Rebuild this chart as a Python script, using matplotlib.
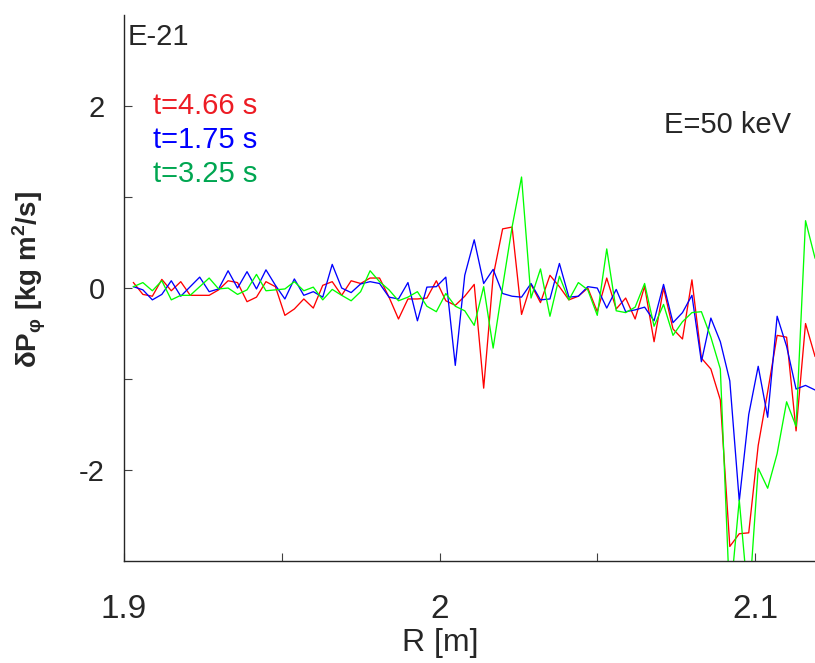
import numpy as np
import matplotlib
matplotlib.use('Agg')
import matplotlib.pyplot as plt
from matplotlib.ticker import FixedLocator, FixedFormatter

plt.rcParams['font.family'] = ['Liberation Sans', 'DejaVu Sans']
plt.rcParams['mathtext.fontset'] = 'custom'
plt.rcParams['mathtext.rm'] = 'Liberation Sans'
plt.rcParams['mathtext.bf'] = 'Liberation Sans:bold'

# radial grid of the sampled profile [m]
R = np.linspace(1.903, 2.119, 73)

# toroidal momentum change at E=50 keV, three time slices
dp_466 = [0.06, -0.07, -0.09, 0.095, -0.03, 0.07, -0.08, -0.08, -0.08, -0.02,
          0.08, 0.06, -0.15, -0.10, 0.07, 0.015, -0.30, -0.23, -0.12, -0.22,
          0.03, 0.07, -0.08, 0.08, 0.05, 0.11, 0.11, -0.10, -0.34, -0.12,
          -0.12, -0.11, 0.08, -0.14, -0.19, -0.09, 0.04, -1.10, 0.13, 0.65,
          0.67, -0.29, 0.04, -0.16, 0.14, 0.015, -0.13, -0.09, 0.0, -0.26,
          0.11, -0.23, -0.11, -0.34, 0.02, -0.59, 0.0, -0.45, -0.56, 0.09,
          -0.77, -0.89, -1.23, -2.84, -2.70, -2.69, -1.73, -1.14, -0.52, -0.54,
          -1.57, -0.39, -0.75]

dp_175 = [0.015, -0.02, -0.13, -0.07, 0.08, -0.09, 0.015, 0.12, -0.04, -0.01,
          0.19, 0.0, 0.18, -0.01, 0.20, 0.03, -0.12, 0.10, -0.08, -0.04,
          -0.10, 0.26, 0.0, -0.05, 0.045, 0.07, 0.05, -0.10, -0.12, 0.06,
          -0.36, 0.01, 0.015, 0.12, -0.85, 0.14, 0.53, 0.05, 0.205, -0.06,
          -0.09, -0.10, 0.05, -0.13, -0.12, 0.27, -0.10, -0.09, 0.015, 0.0,
          -0.22, -0.015, -0.26, -0.24, -0.21, -0.36, 0.04, -0.38, -0.27, -0.08,
          -0.81, -0.33, -0.59, -1.02, -2.34, -1.39, -0.86, -1.42, -0.31, -0.64,
          -1.11, -1.07, -1.12]

dp_325 = [0.015, 0.06, -0.03, 0.08, -0.13, -0.08, -0.08, 0.015, 0.11, -0.01,
          0.0, -0.07, -0.02, 0.15, -0.03, -0.02, -0.01, 0.07, -0.03, 0.01,
          -0.13, -0.015, -0.08, -0.14, -0.04, 0.19, 0.07, -0.02, -0.14, -0.10,
          -0.04, -0.20, -0.26, -0.06, -0.20, -0.25, -0.41, 0.015, -0.66, 0.015,
          0.67, 1.22, -0.11, 0.21, -0.31, 0.13, -0.13, 0.06, -0.02, -0.30,
          0.43, -0.25, -0.27, -0.21, 0.05, -0.42, -0.18, -0.52, -0.37, -0.27,
          -0.26, -0.54, -0.89, -3.45, -2.33, -3.5, -1.98, -2.20, -1.82, -1.25,
          -1.52, 0.74, 0.33]

series = [
    (dp_466, '#ff0000', '#ed1c24', 't=4.66 s'),
    (dp_175, '#0000ff', '#0000ff', 't=1.75 s'),
    (dp_325, '#00ff00', '#00a651', 't=3.25 s'),
]

x_ticks = [1.9, 1.95, 2.0, 2.05, 2.1]
x_labels = ['1.9', '', '2', '', '2.1']
y_ticks = [-2, -1, 0, 1, 2]
y_labels = ['-2', '', '0', '', '2']

fig = plt.figure(figsize=(8.15, 6.63), dpi=100)
ax = fig.add_axes([0.1521, 0.1538, 0.8479, 0.8235])

for vals, lc, tc, lab in series:
    ax.plot(R, vals, color=lc, lw=0.95)

ax.set_xlim(1.9, 2.119)
ax.set_ylim(-3, 3)

for side in ['top', 'right']:
    ax.spines[side].set_visible(False)
for side in ['left', 'bottom']:
    ax.spines[side].set_color('#262626')
    ax.spines[side].set_linewidth(1.0)

ax.xaxis.set_major_locator(FixedLocator(x_ticks))
ax.xaxis.set_major_formatter(FixedFormatter(x_labels))
ax.yaxis.set_major_locator(FixedLocator(y_ticks))
ax.yaxis.set_major_formatter(FixedFormatter(y_labels))
ax.tick_params(direction='in', length=6, width=0.8, color='#404040',
               labelcolor='#262626')
ax.tick_params(axis='y', labelsize=21, pad=14)
ax.tick_params(axis='x', labelsize=24, pad=24)

ax.set_xlabel('R [m]', fontsize=23, color='#262626')
ax.xaxis.set_label_coords(0.458, -0.122)
ax.set_ylabel(r'δP$_{\mathbf{φ}}$ [kg m$^{\mathbf{2}}$/s]', fontsize=20,
              fontweight='bold', color='#262626')
ax.yaxis.set_label_coords(-0.11, 0.515)

ax.text(1.9013, 2.67, 'E-21', fontsize=21, color='#262626', va='baseline')
ax.text(2.0711, 1.70, 'E=50 keV', fontsize=21, color='#262626', va='baseline')
for k, (vals, lc, tc, lab) in enumerate(series):
    ax.text(1.9092, 1.91 - 0.373 * k, lab, fontsize=21, color=tc,
            va='baseline')

fig.savefig('out.png', dpi=100)
